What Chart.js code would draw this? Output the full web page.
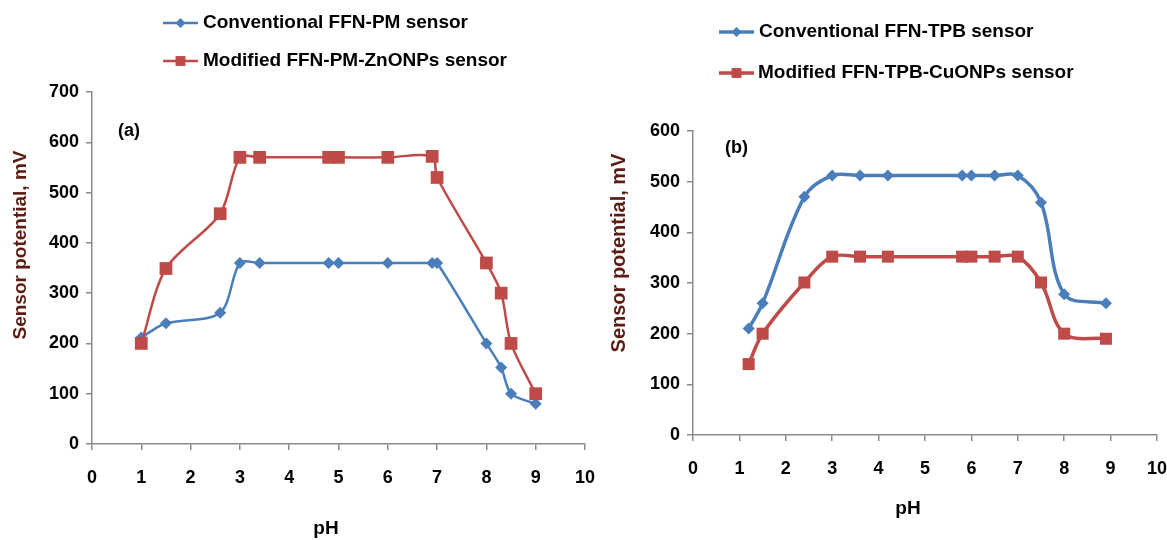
<!DOCTYPE html>
<html>
<head>
<meta charset="utf-8">
<script src="https://cdn.jsdelivr.net/npm/chart.js@4.4.1/dist/chart.umd.min.js"></script>
<style>
  html, body { margin: 0; padding: 0; background: #fff; }
  #wrap { position: relative; width: 1167px; height: 540px; overflow: hidden; }
  #wrap canvas { position: absolute; left: 0; top: 0; }
</style>
</head>
<body>
<div id="wrap">
  <canvas id="chartA" width="1200" height="540"></canvas>
  <canvas id="chartB" width="1200" height="540"></canvas>
</div>
<script>
// ═══════════════ DATA ═══════════════

// (a) FFN-PM sensors
const phA = [1.0, 1.5, 2.6, 3.0, 3.4, 4.8, 5.0, 6.0, 6.9, 7.0, 8.0, 8.3, 8.5, 9.0];
const convA = [212, 240, 261, 360, 360, 360, 360, 360, 360, 360, 200, 152, 100, 80];
const modA = [200, 349, 458, 570, 570, 570, 570, 570, 572, 530, 360, 300, 200, 100];
const labelsA = ['Conventional FFN-PM sensor', 'Modified FFN-PM-ZnONPs sensor'];

// (b) FFN-TPB sensors
const phB = [1.2, 1.5, 2.4, 3.0, 3.6, 4.2, 5.8, 6.0, 6.5, 7.0, 7.5, 8.0, 8.9];
const convB = [210, 260, 470, 512, 512, 512, 512, 512, 512, 512, 459, 278, 260];
const modB = [140, 200, 301, 352, 352, 352, 352, 352, 352, 352, 301, 200, 190];
const labelsB = ['Conventional FFN-TPB sensor', 'Modified FFN-TPB-CuONPs sensor'];

const xTicks = [0, 1, 2, 3, 4, 5, 6, 7, 8, 9, 10];

const BLUE = '#4a7ebb';
const RED = '#be4b48';
const AXIS = '#8a8a8a';
const FONT = '"Liberation Sans", Arial, sans-serif';

// ═══════════════ HELPERS ═══════════════

function drawMarker(ctx, style, x, y, r, color) {
    ctx.fillStyle = color;
    ctx.beginPath();
    if (style === 'rectRot') {
        ctx.moveTo(x - r, y);
        ctx.lineTo(x, y - r);
        ctx.lineTo(x + r, y);
        ctx.lineTo(x, y + r);
    } else {
        const h = r * Math.SQRT1_2;
        ctx.rect(x - h, y - h, 2 * h, 2 * h);
    }
    ctx.closePath();
    ctx.fill();
}

// legend, panel tag and axis titles, placed where the figure has them
const extrasPlugin = {
    id: 'extras',
    afterDraw(chart, args, opts) {
        const ctx = chart.ctx;
        ctx.save();

        opts.legend.forEach((item, i) => {
            const ds = chart.data.datasets[i];
            ctx.strokeStyle = ds.borderColor;
            ctx.lineWidth = ds.borderWidth;
            ctx.beginPath();
            ctx.moveTo(item.x1, item.y);
            ctx.lineTo(item.x2, item.y);
            ctx.stroke();
            drawMarker(ctx, ds.pointStyle, (item.x1 + item.x2) / 2, item.y, item.r, ds.borderColor);
            ctx.fillStyle = '#000';
            ctx.font = 'bold 19px ' + FONT;
            ctx.textAlign = 'left';
            ctx.textBaseline = 'middle';
            ctx.fillText(ds.label, item.tx, item.y);
        });

        // panel tag
        ctx.font = 'bold 18px ' + FONT;
        ctx.fillStyle = '#000';
        ctx.textAlign = 'left';
        ctx.fillText(opts.tag.text, opts.tag.x, opts.tag.y);

        // x title
        ctx.font = 'bold 19px ' + FONT;
        ctx.textAlign = 'center';
        ctx.fillText('pH', opts.xTitle.x, opts.xTitle.y);

        // y title
        ctx.translate(opts.yTitle.x, opts.yTitle.y);
        ctx.rotate(-Math.PI / 2);
        ctx.fillStyle = '#5c1c12';
        ctx.font = 'bold ' + opts.yTitle.size + 'px ' + FONT;
        ctx.fillText('Sensor potential, mV', 0, 0);

        ctx.restore();
    }
};

function makeChart(id, cfg) {
    const toPts = (xs, ys) => xs.map((x, i) => ({ x: x, y: ys[i] }));
    return new Chart(document.getElementById(id), {
        type: 'line',
        data: {
            datasets: [
                {
                    label: cfg.labels[0],
                    data: toPts(cfg.ph, cfg.conv),
                    borderColor: BLUE,
                    backgroundColor: BLUE,
                    pointBackgroundColor: BLUE,
                    pointBorderColor: BLUE,
                    pointBorderWidth: 0,
                    pointStyle: 'rectRot',
                    pointRadius: cfg.diamond,
                    borderWidth: cfg.lw,
                    tension: cfg.tension,
                    order: 1
                },
                {
                    label: cfg.labels[1],
                    data: toPts(cfg.ph, cfg.mod),
                    borderColor: RED,
                    backgroundColor: RED,
                    pointBackgroundColor: RED,
                    pointBorderColor: RED,
                    pointBorderWidth: 0,
                    pointStyle: 'rect',
                    pointRadius: cfg.square,
                    borderWidth: cfg.lw,
                    tension: cfg.tension,
                    order: 0
                }
            ]
        },
        options: {
            responsive: false,
            animation: false,
            devicePixelRatio: 1,
            layout: { padding: cfg.padding },
            plugins: {
                legend: { display: false },
                tooltip: { enabled: false },
                extras: cfg.extras
            },
            scales: {
                x: {
                    type: 'linear',
                    min: 0,
                    max: 10,
                    afterBuildTicks: s => { s.ticks = xTicks.map(v => ({ value: v })); },
                    ticks: {
                        color: '#000',
                        font: { family: FONT, size: 18, weight: 'bold' },
                        padding: 17,
                        maxRotation: 0
                    },
                    grid: { drawOnChartArea: false, color: AXIS, lineWidth: 1.5, tickLength: 6 },
                    border: { color: AXIS, width: 1.5 },
                    afterFit: s => { s.height = cfg.xh; }
                },
                y: {
                    min: 0,
                    max: cfg.ymax,
                    ticks: {
                        stepSize: 100,
                        color: '#000',
                        font: { family: FONT, size: 18, weight: 'bold' },
                        padding: 7
                    },
                    grid: { drawOnChartArea: false, color: AXIS, lineWidth: 1.5, tickLength: 6 },
                    border: { color: AXIS, width: 1.5 },
                    afterFit: s => { s.width = 60; }
                }
            }
        },
        plugins: [extrasPlugin]
    });
}

// ═══════════════ PANELS ═══════════════

makeChart('chartA', {
    ph: phA, conv: convA, mod: modA, labels: labelsA,
    ymax: 700, lw: 2.5, tension: 0.3, diamond: 6, square: 9,
    padding: { left: 32, right: 615, top: 92, bottom: 0 },
    xh: 96,
    extras: {
        legend: [
            { x1: 163, x2: 198, y: 23, tx: 203, r: 5 },
            { x1: 163, x2: 198, y: 61, tx: 203, r: 7 }
        ],
        tag: { text: '(a)', x: 118, y: 131 },
        xTitle: { x: 326, y: 529 },
        yTitle: { x: 21, y: 245, size: 19 }
    }
});

makeChart('chartB', {
    ph: phB, conv: convB, mod: modB, labels: labelsB,
    ymax: 600, lw: 3.5, tension: 0.35, diamond: 6, square: 8.5,
    padding: { left: 633, right: 43, top: 131, bottom: 0 },
    xh: 105,
    extras: {
        legend: [
            { x1: 719, x2: 754, y: 32, tx: 759, r: 5 },
            { x1: 719, x2: 754, y: 73, tx: 758, r: 7 }
        ],
        tag: { text: '(b)', x: 725, y: 148 },
        xTitle: { x: 908, y: 509 },
        yTitle: { x: 619, y: 253, size: 20 }
    }
});
</script>
</body>
</html>
